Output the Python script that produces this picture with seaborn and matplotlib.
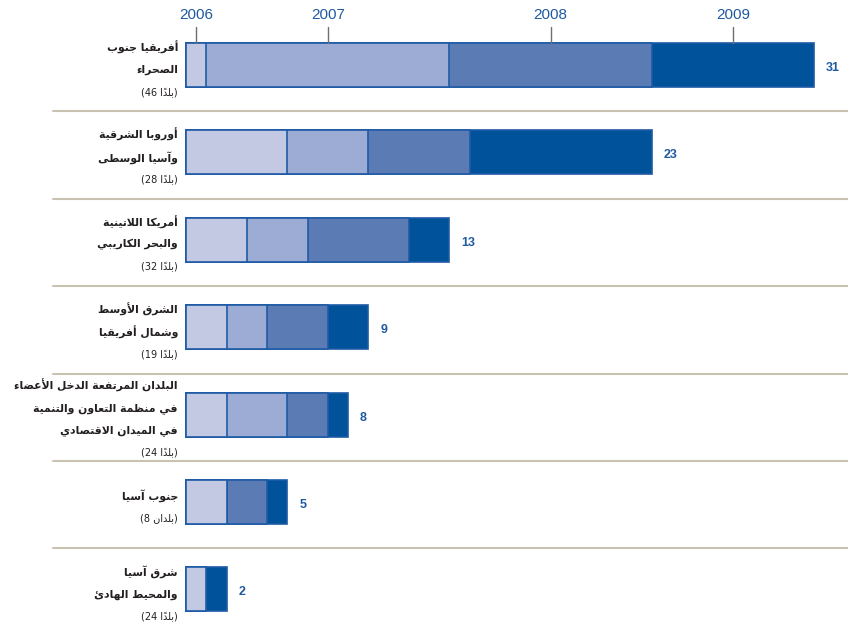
"""
Stacked horizontal bars by region and year (Arabic labels).
"""

import matplotlib
matplotlib.use("Agg")
import matplotlib.pyplot as plt
import seaborn as sns
import numpy as np

sns.set_style("white")
plt.rcParams['font.family'] = ['DejaVu Sans']

# Data
years = ['2006', '2007', '2008', '2009']
region_lines = [
    ['أفريقيا جنوب', 'الصحراء'],
    ['أوروبا الشرقية', 'وآسيا الوسطى'],
    ['أمريكا اللاتينية', 'والبحر الكاريبي'],
    ['الشرق الأوسط', 'وشمال أفريقيا'],
    ['البلدان المرتفعة الدخل الأعضاء', 'في منظمة التعاون والتنمية', 'في الميدان الاقتصادي'],
    ['جنوب آسيا'],
    ['شرق آسيا', 'والمحيط الهادئ'],
]
country_counts = ['46', '28', '32', '19', '24', '8', '24']
count_words = ['بلداً', 'بلداً', 'بلداً', 'بلداً', 'بلداً', 'بلدان', 'بلداً']
v2006 = [1, 5, 3, 2, 2, 2, 1]
v2007 = [12, 4, 3, 2, 3, 0, 0]
v2008 = [10, 5, 5, 3, 2, 2, 0]
v2009 = [8, 9, 2, 2, 1, 1, 1]

colors = ['#c3c9e3', '#9dacd4', '#5b7bb4', '#00529b']
edge_color = '#1f5ba6'
label_blue = '#1f5aa0'

# --- minimal Arabic shaping (matplotlib has no complex text layout) ---
DUAL = {'ئ': 0xFE89, 'ب': 0xFE8F, 'ت': 0xFE95, 'ث': 0xFE99, 'ج': 0xFE9D, 'ح': 0xFEA1,
        'خ': 0xFEA5, 'س': 0xFEB1, 'ش': 0xFEB5, 'ص': 0xFEB9, 'ض': 0xFEBD, 'ط': 0xFEC1,
        'ظ': 0xFEC5, 'ع': 0xFEC9, 'غ': 0xFECD, 'ف': 0xFED1, 'ق': 0xFED5, 'ك': 0xFED9,
        'ل': 0xFEDD, 'م': 0xFEE1, 'ن': 0xFEE5, 'ه': 0xFEE9, 'ي': 0xFEF1}
RIGHT = {'آ': 0xFE81, 'أ': 0xFE83, 'ؤ': 0xFE85, 'إ': 0xFE87, 'ا': 0xFE8D, 'ة': 0xFE93,
         'د': 0xFEA9, 'ذ': 0xFEAB, 'ر': 0xFEAD, 'ز': 0xFEAF, 'و': 0xFEED, 'ى': 0xFEEF}
LAM_ALEF = {'آ': 0xFEF5, 'أ': 0xFEF7, 'إ': 0xFEF9, 'ا': 0xFEFB}


def shape(text):
    clusters = []
    for ch in text:
        if '\u064B' <= ch <= '\u0652' and clusters:
            clusters[-1][1] += ch
        else:
            clusters.append([ch, ''])
    merged = []
    for c in clusters:
        if merged and merged[-1][0] == 'ل' and not merged[-1][1] and c[0] in LAM_ALEF:
            merged[-1] = ['LA' + c[0], c[1]]
        else:
            merged.append(c)

    def kind(ch):
        if ch.startswith('LA') or ch in RIGHT:
            return 'R'
        if ch in DUAL:
            return 'D'
        return 'N'

    out = []
    for i, (ch, mk) in enumerate(merged):
        k = kind(ch)
        prev_j = i > 0 and kind(merged[i - 1][0]) == 'D' and k in 'DR'
        next_j = i + 1 < len(merged) and k == 'D' and kind(merged[i + 1][0]) in 'DR'
        if ch.startswith('LA'):
            g = chr(LAM_ALEF[ch[2]] + (1 if prev_j else 0))
        elif k == 'D':
            off = 3 if (prev_j and next_j) else 1 if prev_j else 2 if next_j else 0
            g = chr(DUAL[ch] + off)
        elif k == 'R':
            g = chr(RIGHT[ch] + (1 if prev_j else 0))
        else:
            g = ch
        out.append(g + mk)
    return ''.join(reversed(out))


# --- layout in pixels of the 848x633 canvas ---
W, H = 848, 633
X0 = 186                      # pixel of value 0
PX = 628 / 31                 # pixels per unit
ROW0, ROWSTEP = 65, 87.4      # centre of first row, row spacing (px)

fig = plt.figure(figsize=(W / 100, H / 100), dpi=100)
ax = fig.add_axes([0, 0, 1, 1])

n = len(region_lines)
keys = [f'r{i}' for i in range(n)]
stack = np.array([v2006, v2007, v2008, v2009])
cum = np.cumsum(stack, axis=0)
totals = cum[-1]

# layered stacked bars, widest (total) first
for j in range(len(years) - 1, -1, -1):
    sns.barplot(x=cum[j], y=keys, orient='h', color=colors[j], saturation=1,
                width=44 / ROWSTEP, edgecolor=edge_color, linewidth=1.2, ax=ax)

ax.set_xlim(-X0 / PX, (W - X0) / PX)
ax.set_ylim((H - ROW0) / ROWSTEP, -ROW0 / ROWSTEP)
ax.set_axis_off()

# separators
for i in range(n - 1):
    ax.axhline(i + 0.53, xmin=53 / W, xmax=1, color='#c9c2b0', lw=1.5, zorder=0)

# year labels at the top (centred on first bar's segments)
half_h = 22 / ROWSTEP
starts = cum[:, 0] - stack[:, 0]
for j, yr in enumerate(years):
    xc = starts[j] + stack[j, 0] / 2
    ax.plot([xc, xc], [-half_h, -(65 - 27) / ROWSTEP], color='#707070', lw=1, zorder=5)
    ax.text(xc, -(65 - 15) / ROWSTEP, yr, ha='center', va='center',
            fontsize=11, color=label_blue, family=['Liberation Sans', 'DejaVu Sans'])

# totals at the bar end
for i, t in enumerate(totals):
    ax.text(t + 12 / PX, i + 3 / ROWSTEP, str(t), ha='left', va='center',
            fontsize=9, fontweight='bold', color=label_blue,
            family=['Liberation Sans', 'DejaVu Sans'])

# region labels (right-aligned, left of bars)
lx = (178 - X0) / PX
line_gap = 22.5 / ROWSTEP
for i, lines in enumerate(region_lines):
    texts = [(shape(s), 'bold', 7.8) for s in lines]
    texts.append((f'({country_counts[i]} ' + shape(count_words[i]) + ')', 'normal', 7))
    m = len(texts)
    yc = i + 5 / ROWSTEP
    for k, (s, wt, fs) in enumerate(texts):
        ax.text(lx, yc + (k - (m - 1) / 2) * line_gap, s, ha='right', va='center',
                fontsize=fs, fontweight=wt, color='#231f20')

fig.savefig('out.png', dpi=100)
